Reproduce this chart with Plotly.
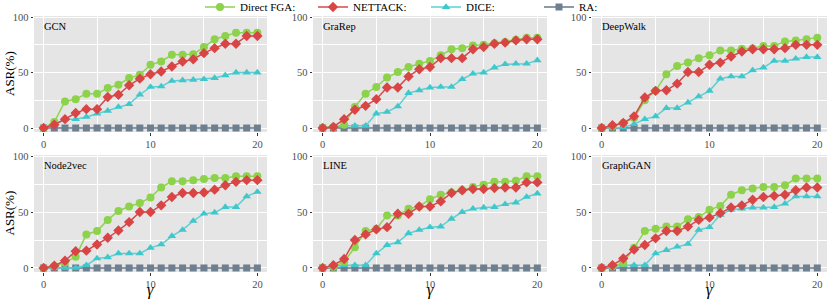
import plotly.graph_objects as go

gamma = list(range(21))
panels = ["GCN", "GraRep", "DeepWalk", "Node2vec", "LINE", "GraphGAN"]

fga = {
    "GCN": [0, 5.4, 24, 26, 31, 31, 36, 39, 45, 48, 57, 60, 66, 66, 66.5, 73, 80, 83, 86, 86, 86],
    "GraRep": [0, 1, 3, 19, 31, 37, 45.5, 50.5, 55, 58, 60.5, 65.5, 71, 72, 74.5, 75, 76.5, 77.5, 79.5, 81.5, 81.5],
    "DeepWalk": [0, 1.5, 4.5, 9, 25, 33.5, 48.5, 56, 59, 63, 65.5, 70, 70, 71.5, 72, 74, 74, 78, 79, 80, 81.5],
    "Node2vec": [0, 1.5, 5, 10, 30, 33, 43, 51, 55, 58, 63, 72, 77.5, 77.5, 78.5, 79.5, 80.5, 80.5, 82, 82, 82],
    "LINE": [0, 1, 5.5, 18.5, 33, 35, 47, 47, 53, 55, 61.5, 65.5, 67.5, 69.5, 72.5, 74.5, 77, 77, 78, 82, 82],
    "GraphGAN": [0, 1.5, 4.5, 18, 33, 35, 37, 37, 43.5, 45.5, 52, 55.5, 65.5, 69.5, 71, 72.5, 72.5, 74, 80, 80, 80],
}
nettack = {
    "GCN": [0, 3, 8, 13.5, 17, 17, 28, 30, 38.5, 44.5, 48.5, 51, 55.5, 60, 62, 67.5, 72, 76, 76, 83, 83],
    "GraRep": [0, 1, 8, 16.5, 20, 26, 36.5, 36.5, 46.5, 53, 55, 63, 63, 63, 71, 73, 76, 77, 79, 80, 80],
    "DeepWalk": [0, 2.5, 4.5, 10.5, 27.5, 33.5, 34, 40, 50.5, 50.5, 57, 59, 64.5, 69, 71, 71, 71, 72, 75, 75, 75],
    "Node2vec": [0, 2, 6.5, 15, 15.5, 21, 27, 33.5, 41, 50, 50, 56, 63.5, 67, 67, 67.5, 70, 74, 77, 78.5, 78.5],
    "LINE": [0, 2.5, 8, 25, 30, 34.5, 36.5, 48.5, 48.5, 55, 55, 59.5, 67, 69.5, 70.5, 70.5, 71.5, 72, 72, 76.5, 76.5],
    "GraphGAN": [0, 2.5, 8.5, 16.5, 20.5, 26.5, 33, 33, 37, 43, 45, 49, 54, 56, 61, 63.5, 64.5, 65.5, 69.5, 72, 72],
}
dice = {
    "GCN": [0, 3, 8, 8, 10, 13, 15.5, 19, 21.5, 30, 37, 37.5, 42.5, 43, 43.5, 44, 45, 47.5, 50, 50, 50],
    "GraRep": [0, 1, 2, 2, 2, 13, 14.5, 19.5, 31.5, 34, 36.5, 37, 37, 44, 49, 50, 54.5, 57.5, 58, 58, 61],
    "DeepWalk": [0, 0.5, 0.5, 3.5, 8, 10.5, 18, 18, 23, 28.5, 33.5, 44.5, 46.5, 46.5, 52, 54.5, 60.5, 60.5, 62.5, 64, 64],
    "Node2vec": [0, 0, 0, 0, 2.5, 8.5, 9.5, 13, 13, 13, 18, 21, 28.5, 34, 42, 48.5, 49.5, 54.5, 54.5, 64, 68],
    "LINE": [0, 1, 2.5, 2.5, 2.5, 13, 20.5, 23, 31, 34, 36.5, 37, 44, 50, 53, 54, 54.5, 57, 58.5, 63.5, 66.5],
    "GraphGAN": [0, 1, 2.5, 2.5, 2.5, 13, 16, 19, 21.5, 34, 36.5, 47.5, 52, 53, 54, 54, 54.5, 57.5, 64, 64, 64],
}
ra = {p: [0] * 21 for p in panels}

x_ticks = [0, 10, 20]
y_ticks = [0, 50, 100]

series = [
    ("RA:", ra, "#667788", "#6E7F90", "square", 7),
    ("DICE:", dice, "#5CCFD2", "#3EC8CC", "triangle-up", 7.5),
    ("Direct FGA:", fga, "#8ED352", "#8CD24A", "circle", 8),
    ("NETTACK:", nettack, "#D34A4A", "#D94545", "diamond", 8),
]
legend_rank = {"Direct FGA:": 1, "NETTACK:": 2, "DICE:": 3, "RA:": 4}

W, H = 831, 300
cols_px = [(34, 267), (313, 547), (592, 827)]
rows_px = [(16, 132), (155, 272)]

fig = go.Figure()
serif = "Liberation Serif, Times New Roman, serif"

for i, p in enumerate(panels):
    r, c = divmod(i, 3)
    ax = "" if i == 0 else str(i + 1)
    for name, data, lcol, mcol, sym, sz in series:
        fig.add_trace(go.Scatter(
            x=gamma, y=data[p], mode="lines+markers", name=name,
            legendgroup=name, showlegend=(i == 0), legendrank=legend_rank[name],
            line=dict(color=lcol, width=1.5),
            marker=dict(color=mcol, symbol=sym, size=sz, line=dict(width=0)),
            xaxis="x" + ax, yaxis="y" + ax,
        ))
    x0, x1 = cols_px[c]
    y0, y1 = rows_px[r]
    common = dict(
        showgrid=True, gridcolor="white", gridwidth=1.1, zeroline=False,
        ticks="outside", ticklen=2.5, tickcolor="#333333", showline=False,
        automargin=False,
        tickfont=dict(family=serif, size=10.5, color="#4D4D4D"),
    )
    fig.layout["xaxis" + ax] = dict(
        domain=[x0 / W, x1 / W], anchor="y" + ax, range=[-0.9, 20.9],
        tickvals=x_ticks, ticktext=[str(v) for v in x_ticks],
        minor=dict(tickvals=[5, 15], showgrid=True, gridcolor="white", gridwidth=0.5, ticks=""),
        **common,
    )
    fig.layout["yaxis" + ax] = dict(
        domain=[1 - y1 / H, 1 - y0 / H], anchor="x" + ax, range=[-3.6, 101],
        tickvals=y_ticks, ticktext=[str(v) for v in y_ticks],
        minor=dict(tickvals=[25, 75], showgrid=True, gridcolor="white", gridwidth=0.5, ticks=""),
        **common,
    )
    fig.add_annotation(
        text=p, xref=f"x{ax} domain", yref=f"y{ax} domain", x=0.035, y=0.91,
        xanchor="left", yanchor="middle", showarrow=False,
        font=dict(family=serif, size=10.5, color="black"),
    )
    if c == 0:
        fig.add_annotation(
            text="ASR(%)", xref="paper", yref="paper", x=9 / W, y=1 - ((y0 + y1) / 2) / H,
            textangle=-90, showarrow=False, xanchor="center", yanchor="middle",
            font=dict(family=serif, size=13, color="black"),
        )
    if r == 1:
        fig.add_annotation(
            text="<i>γ</i>", xref="paper", yref="paper", x=((x0 + x1) / 2) / W, y=1 - 289.5 / H,
            showarrow=False, xanchor="center", yanchor="middle",
            font=dict(family=serif, size=16, color="black"),
        )

fig.update_layout(
    width=W, height=H, margin=dict(l=0, r=0, t=0, b=0, autoexpand=False),
    paper_bgcolor="white", plot_bgcolor="#E5E5E5",
    showlegend=True,
    legend=dict(orientation="h", x=200 / W, xanchor="left", y=1 - 7 / H, yanchor="middle",
                font=dict(family=serif, size=11, color="black"), bgcolor="rgba(0,0,0,0)",
                itemwidth=30, entrywidthmode="pixels", entrywidth=68, tracegroupgap=0),
)

fig.write_html("out.html", config={"displayModeBar": False},
               post_script="document.body.style.margin='0px';document.body.style.overflow='hidden';")
